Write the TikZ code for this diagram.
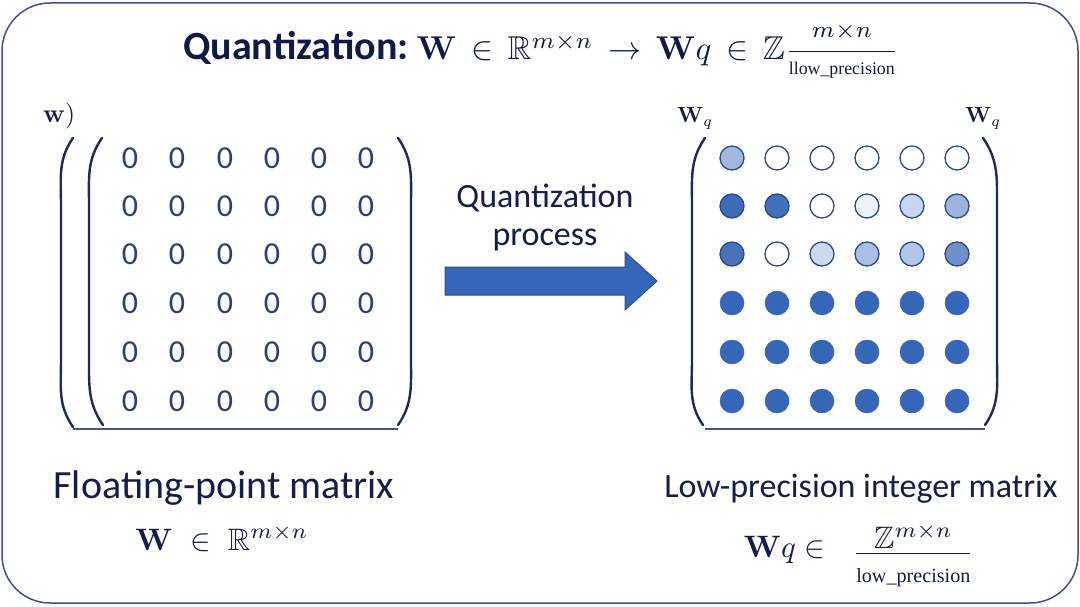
\RequirePackage{fix-cm}
\documentclass[tikz,border=0pt]{standalone}
\usepackage{graphicx}
\usepackage{amsmath,amssymb}
\usepackage[no-math]{fontspec}
\setmainfont{Carlito}
\newfontfamily\serifx{Liberation Serif}
\newcommand\mth[2]{\scalebox{#1}{\fontsize{10}{12}\selectfont$#2$}}
\definecolor{navy}{HTML}{151D4A}
\definecolor{titlecol}{HTML}{111A45}
\definecolor{zerocol}{HTML}{2C3F78}
\definecolor{parencol}{HTML}{1D2A5C}
\definecolor{framecol}{HTML}{3C5090}
\definecolor{bluefill}{HTML}{3566B8}
\definecolor{outl}{HTML}{2B4C8C}
\definecolor{arrowedge}{HTML}{2A4F95}
\tikzset{
  frame/.style={draw=framecol, line width=1.5pt, rounded corners=48pt, fill=white},
  txt/.style={text=navy, inner sep=0pt, anchor=base},
  zero/.style={text=zerocol, inner sep=0pt, font=\fontsize{32}{34}\selectfont},
  paren/.style={draw=parencol, line width=2.4pt, line cap=round},
  baseline rule/.style={draw=parencol!80, line width=1.2pt},
  dot/.style={circle, minimum size=24pt, inner sep=0pt, draw=outl, line width=1.3pt},
  fulldot/.style={circle, minimum size=24pt, inner sep=0pt, fill=bluefill, draw=bluefill, line width=0.5pt},
  blockarrow/.style={fill=bluefill, draw=arrowedge, line width=1pt, line join=miter}
}
\begin{document}
\begin{tikzpicture}[x=1pt,y=-1pt]
\useasboundingbox (0,0) rectangle (1080,607);
\path[frame] (2,3) rectangle (1078,603);

% title
\node[txt, text=titlecol] (title) at (541,60) {\bfseries\fontsize{40}{44}\selectfont Quantization:\hspace{8pt}\normalfont\mth{3.3}{\mathbf{W}\,\in\,\mathbb{R}^{m\times n}\,\rightarrow\,\mathbf{W}q\,\in\,\mathbb{Z}{\displaystyle\frac{\scriptstyle m\times n}{\raisebox{2.5pt}{\normalfont\serifx\fontsize{5.4}{5.4}\selectfont llow\_precision}}}}};

% left matrix
\node[txt, anchor=base west] (wlab) at (43,123) {\mth{2.6}{\mathbf{w})}};
\foreach \r/\y in {1/158,2/206,3/254,4/303,5/352,6/401}{
  \foreach \c/\x in {1/130,2/177,3/225,4/272,5/319,6/366}{
    \node[zero] (z-\r-\c) at (\x,\y) {0};
  }
}
\coordinate (lo1t) at (73,138); \coordinate (lo1b) at (73,427);
\coordinate (lo2t) at (102,138); \coordinate (lo2b) at (103,425);
\coordinate (lrt) at (398,138); \coordinate (lrb) at (398,425);
\draw[paren] (lo1t) to[out=235,in=90] (61,205) -- (61,360) to[out=-90,in=125] (lo1b);
\draw[paren] (lo2t) to[out=235,in=90] (89,205) -- (89,360) to[out=-90,in=125] (lo2b);
\draw[paren] (lrt) to[out=-55,in=90] (411,205) -- (411,360) to[out=-90,in=55] (lrb);
\coordinate (lbl) at (73,429); \coordinate (lbr) at (398,429);
\draw[baseline rule] (lbl) -- (lbr);

% arrow
\node[txt, align=center, font=\fontsize{34}{38}\selectfont, anchor=base] (qp) at (545,245) {Quantization\\process};
\path[blockarrow] (445,267) -- (625,267) -- (625,252) -- (657,281) -- (625,310) -- (625,295) -- (445,295) -- cycle;

% right matrix
\node[txt, anchor=base west] (wq1) at (677,123) {\mth{2.2}{\mathbf{W}_q}};
\node[txt, anchor=base west] (wq2) at (965,123) {\mth{2.2}{\mathbf{W}_q}};
\foreach \r/\y in {4/303,5/352,6/401}{
  \foreach \c/\x in {1/732,2/777,3/822,4/867,5/912,6/957}{
    \node[fulldot] (d-\r-\c) at (\x,\y) {};
  }
}
\foreach \c/\x/\col in {1/732/A3B7DE,2/777/FFFFFF,3/822/FFFFFF,4/867/FFFFFF,5/912/FFFFFF,6/957/FFFFFF}{
  \definecolor{tmp}{HTML}{\col}
  \node[dot, fill=tmp] (d-1-\c) at (\x,158) {};
}
\foreach \c/\x/\col in {1/732/3F6AB8,2/777/4270BA,3/822/FFFFFF,4/867/EEF2FA,5/912/C9D6EF,6/957/9DB3DC}{
  \definecolor{tmp}{HTML}{\col}
  \node[dot, fill=tmp] (d-2-\c) at (\x,206) {};
}
\foreach \c/\x/\col in {1/732/4A72BB,2/777/FFFFFF,3/822/CCD9F1,4/867/A9BEE4,5/912/B3C5E8,6/957/7190CB}{
  \definecolor{tmp}{HTML}{\col}
  \node[dot, fill=tmp] (d-3-\c) at (\x,254) {};
}
\coordinate (rlt) at (705,138); \coordinate (rlb) at (703,425);
\coordinate (rrt) at (983,138); \coordinate (rrb) at (985,425);
\draw[paren] (rlt) to[out=235,in=90] (692,205) -- (692,360) to[out=-90,in=125] (rlb);
\draw[paren] (rrt) to[out=-55,in=90] (997,205) -- (997,360) to[out=-90,in=55] (rrb);
\coordinate (rbl) at (705,429); \coordinate (rbr) at (985,429);
\draw[baseline rule] (rbl) -- (rbr);

% bottom labels
\node[txt] (fl) at (224,498) {\fontsize{40}{44}\selectfont Floating-point matrix};
\node[txt] (fm) at (222,550) {\mth{3.1}{\mathbf{W}\;\in\;\mathbb{R}^{m\times n}}};
\node[txt] (ll) at (861,497) {\fontsize{34}{38}\selectfont Low-precision integer matrix};
\node[txt] (lm) at (859,557) {\mth{3.1}{\mathbf{W}q\in\hspace{6pt}\raisebox{-1.3pt}{$\frac{\textstyle\mathbb{Z}^{m\times n}}{\raisebox{-3.5pt}{\normalfont\serifx\fontsize{6.5}{6.5}\selectfont low\_precision}}$}}};
\end{tikzpicture}
\end{document}
